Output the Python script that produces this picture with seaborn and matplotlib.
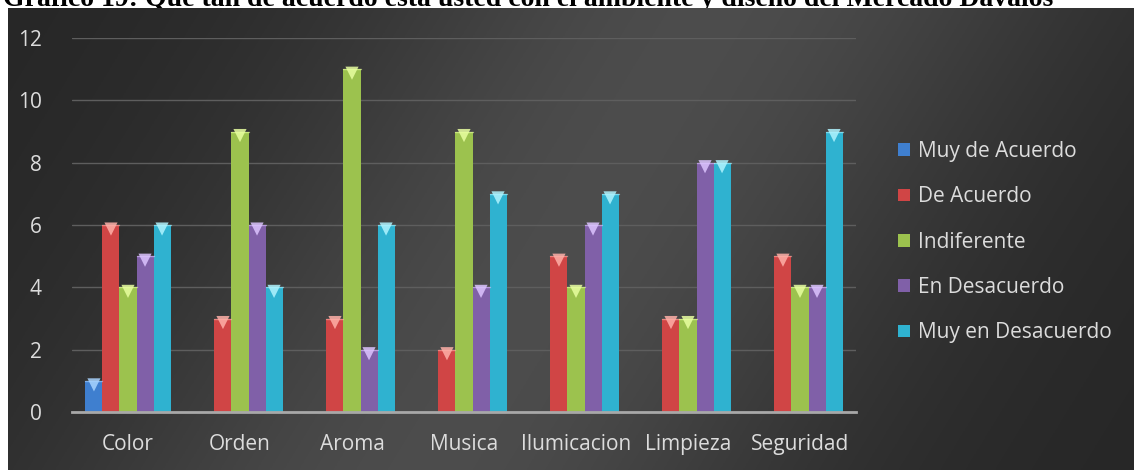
import numpy as np
import pandas as pd
import matplotlib
matplotlib.use("Agg")
import matplotlib.pyplot as plt
import seaborn as sns

categories = ["Color", "Orden", "Aroma", "Musica", "Ilumicacion", "Limpieza", "Seguridad"]
series = ["Muy de Acuerdo", "De Acuerdo", "Indiferente", "En Desacuerdo", "Muy en Desacuerdo"]
muy_de_acuerdo = [1, 0, 0, 0, 0, 0, 0]
de_acuerdo = [6, 3, 3, 2, 5, 3, 5]
indiferente = [4, 9, 11, 9, 4, 3, 4]
en_desacuerdo = [5, 6, 2, 4, 6, 8, 4]
muy_en_desacuerdo = [6, 4, 6, 7, 7, 8, 9]
yticks = [0, 2, 4, 6, 8, 10, 12]
title = "Gráfico 19: Qué tan de acuerdo está usted con el ambiente y diseño del Mercado Dávalos"

colors = ["#3f7fcf", "#d04545", "#9cc24e", "#8060a8", "#2fb2d0"]
tops = ["#a9d4ff", "#ffb0a8", "#e8ffa0", "#dcc4ff", "#b0f4ff"]

values = [muy_de_acuerdo, de_acuerdo, indiferente, en_desacuerdo, muy_en_desacuerdo]
rows = []
for s, vals in zip(series, values):
    for c, v in zip(categories, vals):
        rows.append({"cat": c, "serie": s, "val": v})
df = pd.DataFrame(rows)

sns.set_theme(style="dark")
plt.rcParams['font.family'] = ['Open Sans', 'DejaVu Sans']

W, H = 1134, 470
fig = plt.figure(figsize=(W / 100, H / 100), dpi=100, facecolor="white")

# title (partially hidden behind the panel and the top edge, as in the reference)
fig.text(3 / W, 1 - 6 / H, title, fontsize=20, fontweight="bold",
         family="Liberation Serif", color="black", va="baseline", ha="left", zorder=-5)

# dark gradient panel
bg = fig.add_axes([8 / W, 0, 1 - 8 / W, 1 - 8 / H], zorder=0)
gx = np.linspace(0, 1, 400)
gy = np.linspace(0, 1, 200)
X, Y = np.meshgrid(gx, gy)
u = X - 0.25 * (Y - 0.5)
L = 0.15 + 0.15 * np.exp(-((u - 0.5) / 0.33) ** 2)
img = np.dstack([L, L, L])
bg.imshow(img, aspect="auto", extent=[0, 1, 0, 1], origin="lower")
bg.set_axis_off()

ax = fig.add_axes([72 / W, 58 / H, (856 - 72) / W, (412 - 38) / H], zorder=1)
ax.patch.set_alpha(0)
sns.barplot(data=df, x="cat", y="val", hue="serie", palette=colors,
            width=0.76, gap=0.0, dodge=True, ax=ax, saturation=1, legend=True,
            edgecolor="none", linewidth=0)

# bevel triangles on top of bars
for i, cont in enumerate(ax.containers):
    for p in cont.patches:
        h = p.get_height()
        if h > 0:
            xc = p.get_x() + p.get_width() / 2
            ax.scatter([xc], [h - 0.13], marker="v", s=90, color=tops[i],
                       edgecolors="none", zorder=4, alpha=0.85)
            ax.plot([p.get_x(), p.get_x() + p.get_width()], [h, h], color=tops[i],
                    lw=1, alpha=0.6, zorder=4)

ax.set_ylim(0, 12)
ax.set_xlim(-0.5, len(categories) - 0.5)
ax.set_yticks(yticks)
ax.set_yticklabels([str(t) for t in yticks])
ax.set_xlabel("")
ax.set_ylabel("")
ax.grid(axis="y", color="#5e5e5e", lw=1)
ax.grid(axis="x", visible=False)
ax.set_axisbelow(True)
for sp in ["top", "right", "left"]:
    ax.spines[sp].set_visible(False)
ax.spines["bottom"].set_color("#a8a8a8")
ax.spines["bottom"].set_linewidth(2)
ax.tick_params(axis="y", colors="#d9d9d9", labelsize=15, length=0, pad=22)
ax.tick_params(axis="x", colors="#d9d9d9", labelsize=15, length=0, pad=16)
for t in ax.get_xticklabels() + ax.get_yticklabels():
    t.set_color("#dcdcdc")

leg = ax.legend(loc="upper left", bbox_to_anchor=(1.03, 0.775), frameon=False,
                fontsize=15, labelcolor="#dcdcdc", handlelength=0.55, handleheight=0.55,
                handletextpad=0.4, labelspacing=1.17)

fig.savefig("out.png", dpi=100, facecolor="white")
